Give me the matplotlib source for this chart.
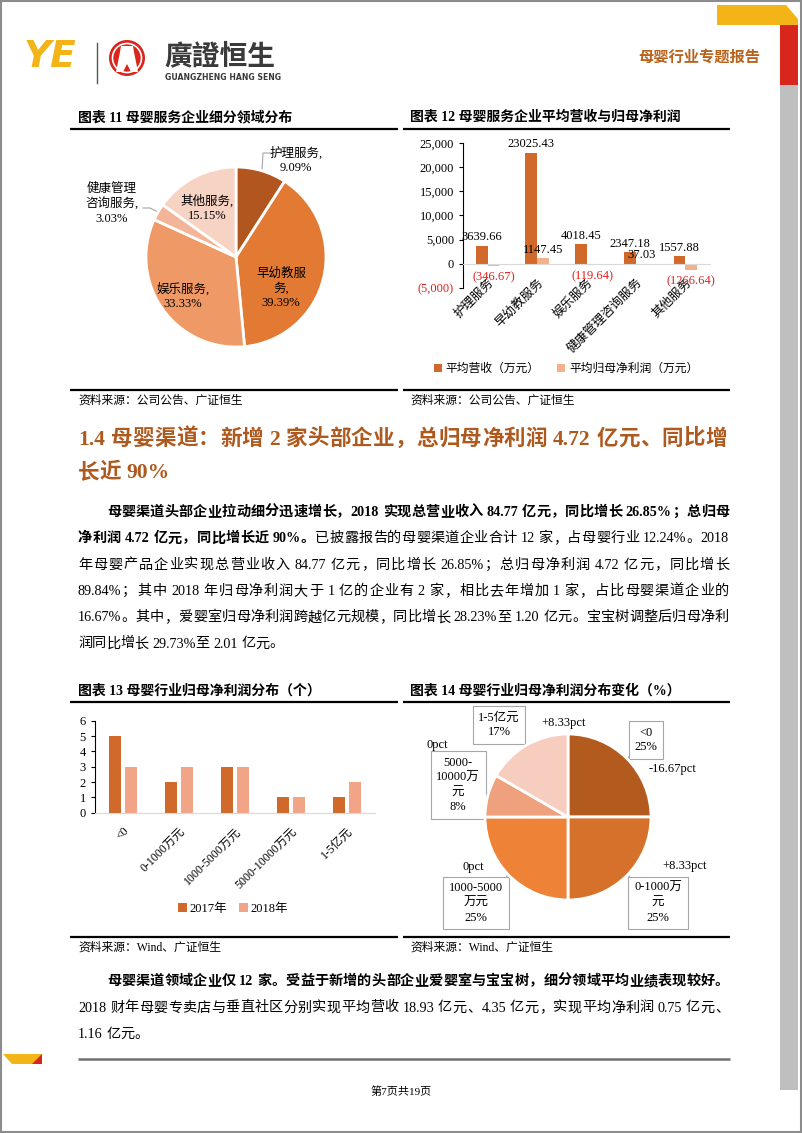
import re
import matplotlib.pyplot as plt
import numpy as np
from matplotlib.patches import Circle, Polygon, Rectangle
from matplotlib.ticker import FuncFormatter

plt.rcParams['font.family'] = ['Liberation Serif', 'Noto Sans CJK SC', 'DejaVu Sans']

# 图表11 / 12: service segments
svc_names = ['护理服务', '早幼教服务', '娱乐服务', '健康管理咨询服务', '其他服务']
svc_share = [9.09, 39.39, 33.33, 3.03, 15.15]
svc_revenue = [3639.66, 23025.43, 4018.45, 2347.18, 1557.88]
svc_profit = [-346.67, 1147.45, -119.64, 37.03, -1266.64]

# 图表13 / 14: profit distribution (number of companies)
bins = ['<0', '0-1000万元', '1000-5000万元', '5000-10000万元', '1-5亿元']
cnt_2017 = [5, 2, 3, 1, 1]
cnt_2018 = [3, 3, 3, 1, 2]

W, H = 802, 1133
fig = plt.figure(figsize=(W / 100, H / 100), dpi=100)
bg = fig.add_axes([0, 0, 1, 1])
bg.set_xlim(0, W)
bg.set_ylim(H, 0)
bg.axis('off')
rend = fig.canvas.get_renderer()


def box(x0, y0, x1, y1):
    return [x0 / W, 1 - y1 / H, (x1 - x0) / W, (y1 - y0) / H]


def hline(x0, x1, y, lw=1.5, color='black'):
    bg.plot([x0, x1], [y, y], color=color, lw=lw, solid_capstyle='butt')


def put_line(segs, x0, x1, y, size, color='black', justify=True):
    # draw a line token by token so it can be spread out like the justified page text
    arts = []
    for s, bold in segs:
        for m in re.finditer(r'\s+|[0-9A-Za-z.%+\-]+|.', s):
            t = m.group()
            if t.isspace():
                arts.append((None, size * 100 / 72 * 0.25))
            else:
                a = bg.text(0, y, t, fontsize=size, color=color, va='baseline', ha='left',
                            weight='bold' if bold else 'normal')
                arts.append((a, a.get_window_extent(rend).width))
    nat = sum(w for _, w in arts)
    n = sum(1 for a, _ in arts if a is not None)
    gap = (x1 - x0 - nat) / (n - 1) if justify and n > 1 else 0
    x = x0
    for a, w in arts:
        if a is None:
            x += w
        else:
            a.set_x(x)
            x += w + gap


# ---- page frame and header ----
bg.add_patch(Rectangle((1, 1), W - 2, H - 2, fill=False, ec='#8c8c8c', lw=1.5))
bg.add_patch(Polygon([(717, 5), (786, 5), (798, 19), (798, 25), (717, 25)], color='#F2B416', lw=0))
bg.add_patch(Rectangle((780, 25), 18, 60, color='#D8261D', lw=0))
bg.add_patch(Rectangle((780, 85), 18, 1005, color='#BFBFBF', lw=0))
bg.add_patch(Polygon([(3, 1054), (42, 1054), (42, 1064), (12, 1064)], color='#F2B416', lw=0))
bg.add_patch(Polygon([(32, 1064), (42, 1054), (42, 1064)], color='#D8261D', lw=0))

bg.text(24, 57, 'YE', fontsize=27, weight='bold', style='italic', color='#F2B416',
        family='DejaVu Sans', va='center', ha='left')
bg.plot([97, 97], [43, 83], color='#555555', lw=1)
bg.add_patch(Circle((127, 58), 18, color='#D8261D', lw=0))
bg.add_patch(Circle((127, 58), 14.5, fill=False, ec='white', lw=1.2))
bg.add_patch(Polygon([(121, 46), (133, 46), (134, 52), (138, 72), (131, 72), (127, 64),
                      (123, 72), (116, 72), (120, 52)], color='white', lw=0))
bg.text(164, 56, '廣證恒生', fontsize=20, weight='bold', color='#3a3a3a',
        family=['Noto Sans CJK TC', 'DejaVu Sans'], va='center', ha='left')
bg.text(165, 77, 'GUANGZHENG HANG SENG', fontsize=5.6, weight='bold', color='#3a3a3a',
        family='DejaVu Sans', va='center', ha='left')
bg.text(760, 57, '母婴行业专题报告', fontsize=11, weight='bold', color='#B8621B',
        family=['Noto Sans CJK SC'], va='center', ha='right')

# ---- chart titles, rules, sources ----
for x0, y, title in [(78, 117, '图表 11 母婴服务企业细分领域分布'),
                     (410, 117, '图表 12 母婴服务企业平均营收与归母净利润'),
                     (78, 691, '图表 13 母婴行业归母净利润分布（个）'),
                     (410, 691, '图表 14 母婴行业归母净利润分布变化（%）')]:
    bg.text(x0, y, title, fontsize=10, weight='bold', va='center', ha='left')
for y in [129, 390, 702, 937]:
    hline(70, 398, y, lw=1.6)
    hline(403, 730, y, lw=1.6)
for x in [78, 410]:
    bg.text(x, 401, '资料来源：公司公告、广证恒生', fontsize=8.5, va='center', ha='left')
    bg.text(x, 948, '资料来源：Wind、广证恒生', fontsize=8.5, va='center', ha='left')

# ---- section heading and paragraphs ----
head = '#AE5A1E'
put_line([('1.4 母婴渠道：新增 2 家头部企业，总归母净利润 4.72 亿元、同比增', True)],
         78, 727, 445, 15.5, color=head)
put_line([('长近 90%', True)], 78, 727, 478, 15.5, color=head, justify=False)

p1 = [
    [('母婴渠道头部企业拉动细分迅速增长，2018 实现总营业收入 84.77 亿元，同比增长 26.85%；总归母', True)],
    [('净利润 4.72 亿元，同比增长近 90%。', True),
     ('已披露报告的母婴渠道企业合计 12 家，占母婴行业 12.24%。2018', False)],
    [('年母婴产品企业实现总营业收入 84.77 亿元，同比增长 26.85%；总归母净利润 4.72 亿元，同比增长', False)],
    [('89.84%；其中 2018 年归母净利润大于 1 亿的企业有 2 家，相比去年增加 1 家，占比母婴渠道企业的', False)],
    [('16.67%。其中，爱婴室归母净利润跨越亿元规模，同比增长 28.23%至 1.20 亿元。宝宝树调整后归母净利', False)],
    [('润同比增长 29.73%至 2.01 亿元。', False)],
]
for i, segs in enumerate(p1):
    put_line(segs, 107 if i == 0 else 78, 729, 516 + i * 26.3, 10.2, justify=i < len(p1) - 1)

p2 = [
    [('母婴渠道领域企业仅 12 家。受益于新增的头部企业爱婴室与宝宝树，细分领域平均业绩表现较好。', True)],
    [('2018 财年母婴专卖店与垂直社区分别实现平均营收 18.93 亿元、4.35 亿元，实现平均净利润 0.75 亿元、', False)],
    [('1.16 亿元。', False)],
]
for i, segs in enumerate(p2):
    put_line(segs, 107 if i == 0 else 78, 729, 985 + i * 26.5, 10.2, justify=i < len(p2) - 1)

hline(78, 730, 1059, lw=1.8, color='#707070')
bg.text(401, 1092, '第7页共19页', fontsize=8, va='center', ha='center')

# ---- 图表11 pie ----
c11 = ['#B0561E', '#E27A33', '#EF9A66', '#F3B597', '#F7D3C3']
ax = fig.add_axes(box(146, 167, 326, 347))
ax.pie(svc_share, colors=c11, startangle=90, counterclock=False,
       wedgeprops=dict(edgecolor='white', linewidth=2))
ax.set_xlim(-1, 1)
ax.set_ylim(-1, 1)
ax.axis('off')
lab11 = ['护理服务,\n9.09%', '早幼教服\n务,\n39.39%', '娱乐服务,\n33.33%',
         '健康管理\n咨询服务,\n3.03%', '其他服务,\n15.15%']
pos11 = [(296, 160), (281, 288), (183, 296), (112, 204), (207, 208)]
for t, (x, y) in zip(lab11, pos11):
    ax.text(x, y, t, fontsize=9, va='center', ha='center', linespacing=1.25,
            transform=bg.transData)
bg.plot([262, 263, 271], [171, 153, 153], color='#A6A6A6', lw=0.8)
bg.plot([143, 150, 158], [208, 208, 212], color='#A6A6A6', lw=0.8)

# ---- 图表12 bars ----
c_rev, c_pro = '#D0692A', '#F4B08B'
x = np.arange(len(svc_names))
bw = 0.237
ax = fig.add_axes(box(463, 143, 710, 288))
ax.patch.set_alpha(0)
ax.spines['bottom'].set_position(('data', 0))
ax.spines['bottom'].set_color('#D9D9D9')
ax.spines['left'].set_linewidth(0.8)
for s in ['top', 'right']:
    ax.spines[s].set_visible(False)
ax.bar(x - bw / 2, svc_revenue, bw, color=c_rev, label='平均营收（万元）')
ax.bar(x + bw / 2, svc_profit, bw, color=c_pro, label='平均归母净利润（万元）')
ax.set_ylim(-5000, 25000)
ax.set_xlim(-0.5, 4.5)
ax.set_yticks(np.arange(-5000, 25001, 5000))
ax.yaxis.set_major_formatter(FuncFormatter(lambda v, p: f'({-v:,.0f})' if v < 0 else f'{v:,.0f}'))
ax.tick_params(axis='y', labelsize=9, length=3, width=0.8)
ax.set_xticks(x)
ax.set_xticklabels(svc_names, rotation=45, ha='right', rotation_mode='anchor', fontsize=9)
ax.tick_params(axis='x', length=0, pad=9)
for t, v in zip(ax.get_yticklabels(), ax.get_yticks()):
    if v < 0:
        t.set_color('#E0201B')


def fmt(v):
    return f'({-v:.2f})' if v < 0 else f'{v:.2f}'


for xi, v in zip(x - bw / 2, svc_revenue):
    ax.annotate(fmt(v), (xi, v), xytext=(0, 2), textcoords='offset points',
                ha='center', va='bottom', fontsize=9)
for xi, v in zip(x + bw / 2, svc_profit):
    if v < 0:
        ax.annotate(fmt(v), (xi, v), xytext=(0, -4), textcoords='offset points',
                    ha='center', va='top', fontsize=9, color='#E0201B')
    else:
        ax.annotate(fmt(v), (xi, v), xytext=(0, 2), textcoords='offset points',
                    ha='center', va='bottom', fontsize=9)
fig.legend(*ax.get_legend_handles_labels(), loc='center', bbox_to_anchor=(566 / W, 1 - 369 / H),
           ncol=2, frameon=False, fontsize=8.5, handlelength=0.7, handleheight=0.7,
           handletextpad=0.3, columnspacing=1.5)

# ---- 图表13 bars ----
c17, c18 = '#D0692A', '#F2A586'
x = np.arange(len(bins))
bw = 0.22
ax = fig.add_axes(box(95, 720.7, 375, 812.7))
ax.patch.set_alpha(0)
ax.bar(x - 0.14, cnt_2017, bw, color=c17, label='2017年')
ax.bar(x + 0.14, cnt_2018, bw, color=c18, label='2018年')
ax.set_ylim(0, 6)
ax.set_xlim(-0.5, 4.5)
ax.set_yticks(range(7))
ax.tick_params(axis='y', labelsize=9, length=3, width=0.8)
ax.set_xticks(x)
ax.set_xticklabels(bins, rotation=45, ha='right', rotation_mode='anchor', fontsize=8.5)
ax.tick_params(axis='x', length=0, pad=9)
for s in ['top', 'right']:
    ax.spines[s].set_visible(False)
ax.spines['bottom'].set_color('#D9D9D9')
ax.spines['left'].set_linewidth(0.8)
fig.legend(*ax.get_legend_handles_labels(), loc='center', bbox_to_anchor=(233 / W, 1 - 909 / H),
           ncol=2, frameon=False, fontsize=9, handlelength=0.7, handleheight=0.7,
           handletextpad=0.2, columnspacing=1.0)

# ---- 图表14 pie ----
c14 = ['#B35A1F', '#D5712A', '#EE8237', '#EFA17E', '#F6CDBF']
tot17, tot18 = sum(cnt_2017), sum(cnt_2018)
share18 = [c / tot18 * 100 for c in cnt_2018]
chg = [(a / tot18 - b / tot17) * 100 for a, b in zip(cnt_2018, cnt_2017)]
ax = fig.add_axes(box(485, 734, 651, 900))
ax.pie(cnt_2018, colors=c14, startangle=90, counterclock=False,
       wedgeprops=dict(edgecolor='white', linewidth=2))
ax.set_xlim(-1, 1)
ax.set_ylim(-1, 1)
ax.axis('off')
wrap14 = ['<0', '0-1000万\n元', '1000-5000\n万元', '5000-\n10000万\n元', '1-5亿元']
box14 = [(646, 740), (658, 903), (476, 903), (458, 785), (499, 725)]
chg_pos = [(672, 769), (685, 866), (473, 867), (437, 745), (564, 723)]
for name, s, c, (bx, by), (cx, cy) in zip(wrap14, share18, chg, box14, chg_pos):
    bg.text(bx, by, f'{name}\n{s:.0f}%', fontsize=9, va='center', ha='center', linespacing=1.3,
            bbox=dict(boxstyle='square,pad=0.45', fc='white', ec='#A6A6A6', lw=0.8))
    txt = '0pct' if abs(c) < 0.005 else f'{c:+.2f}pct'
    bg.text(cx, cy, txt, fontsize=9, va='center', ha='center')
for seg in [((633, 750), (628, 758)), ((633, 884), (629, 876)), ((506, 878), (510, 870)),
            ((483, 802), (487, 793)), ((518, 742), (525, 745))]:
    bg.plot(*zip(*seg), color='#A6A6A6', lw=0.8)

fig.savefig('out.png', dpi=100)
